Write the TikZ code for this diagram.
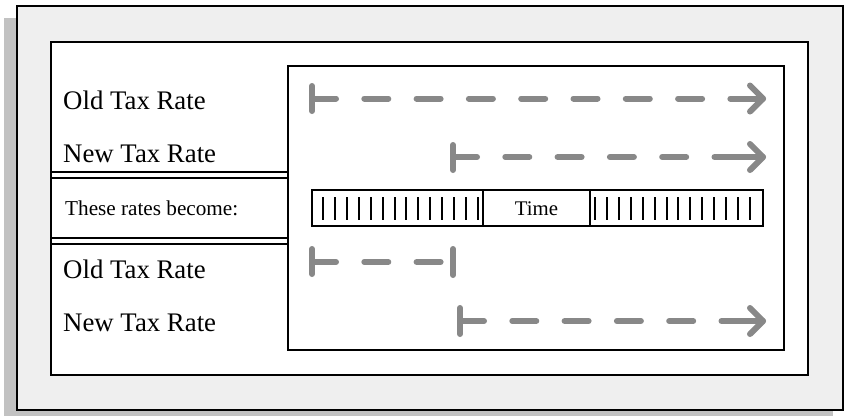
\documentclass[tikz,border=0pt]{standalone}
\usepackage{fontspec}
\setmainfont{Liberation Serif}
\definecolor{framefill}{HTML}{EFEFEF}
\definecolor{shadowgray}{HTML}{C2C2C2}
\definecolor{arrowgray}{HTML}{888888}
\begin{document}
\begin{tikzpicture}[x=1pt,y=-1pt,
  frameline/.style={draw=black,line width=2pt},
  thinline/.style={draw=black,line width=1.4pt},
  label/.style={anchor=base west,inner sep=0pt,font=\fontsize{26.8}{30}\selectfont},
  smalllabel/.style={anchor=base west,inner sep=0pt,font=\fontsize{21.2}{24}\selectfont},
  timelabel/.style={anchor=base,inner sep=0pt,font=\fontsize{20.8}{24}\selectfont},
  tick/.style={draw=black,line width=2pt},
  grayline/.style={draw=arrowgray,line width=6pt,line cap=round,line join=round},
  dashline/.style={grayline,dash pattern=on 24pt off 28.3pt},
]
\useasboundingbox (0,0) rectangle (847,416);
% shadow and frame
\fill[shadowgray] (4,18) rectangle (833,416);
\filldraw[fill=framefill,frameline] (17,6) rectangle (843,410);
\filldraw[fill=white,frameline] (51,42) rectangle (808,375);
\draw[frameline] (288,66) rectangle (784,350);
% double lines of the middle band
\draw[thinline] (51,172) -- (288,172);
\draw[thinline] (51,178) -- (288,178);
\draw[thinline] (51,238) -- (288,238);
\draw[thinline] (51,244) -- (288,244);
% labels
\node[label] (old1) at (63,109) {Old Tax Rate};
\node[label] (new1) at (63,162) {New Tax Rate};
\node[smalllabel] (become) at (65,215) {These rates become:};
\node[label] (old2) at (63,278) {Old Tax Rate};
\node[label] (new2) at (63,331) {New Tax Rate};
% time bar
\draw[thinline] (312,190) rectangle (763,226);
\foreach \i in {0,...,13} {
  \draw[tick] ({323+\i*11.92},197) -- ({323+\i*11.92},220);
  \draw[tick] ({595+\i*11.92},197) -- ({595+\i*11.92},220);
}
\node[draw=black,line width=2pt,fill=white,minimum width=107pt,minimum height=36pt,inner sep=0pt] (timebox) at (536.5,208) {};
\node[timelabel] (time) at (536.5,215) {Time};
% row 1: old rate
\coordinate (s1) at (312,98.5);
\coordinate (t1) at (763,98.5);
\draw[grayline] (312,86) -- (312,111);
\draw[dashline] (s1) -- (t1);
\draw[grayline] ([xshift=-30pt]t1) -- (t1);
\draw[grayline] ([shift={(-13,-13)}]t1) -- (t1) -- ([shift={(-13,13)}]t1);
% row 2: new rate
\coordinate (s2) at (453,157);
\coordinate (t2) at (763,157);
\draw[grayline] (453,145) -- (453,170);
\draw[dashline] (s2) -- (t2);
\draw[grayline] ([xshift=-30pt]t2) -- (t2);
\draw[grayline] ([shift={(-13,-13)}]t2) -- (t2) -- ([shift={(-13,13)}]t2);
% row 3: old rate ends
\coordinate (s3) at (312,262);
\coordinate (t3) at (453,262);
\draw[grayline] (312,249) -- (312,274);
\draw[dashline] (s3) -- (445,262);
\draw[grayline] (453,249) -- (453,275);
% row 4: new rate
\coordinate (s4) at (460,321);
\coordinate (t4) at (763,321);
\draw[grayline] (460,308) -- (460,334);
\draw[dashline] (s4) -- (t4);
\draw[grayline] ([xshift=-30pt]t4) -- (t4);
\draw[grayline] ([shift={(-13,-13)}]t4) -- (t4) -- ([shift={(-13,13)}]t4);
\end{tikzpicture}
\end{document}
